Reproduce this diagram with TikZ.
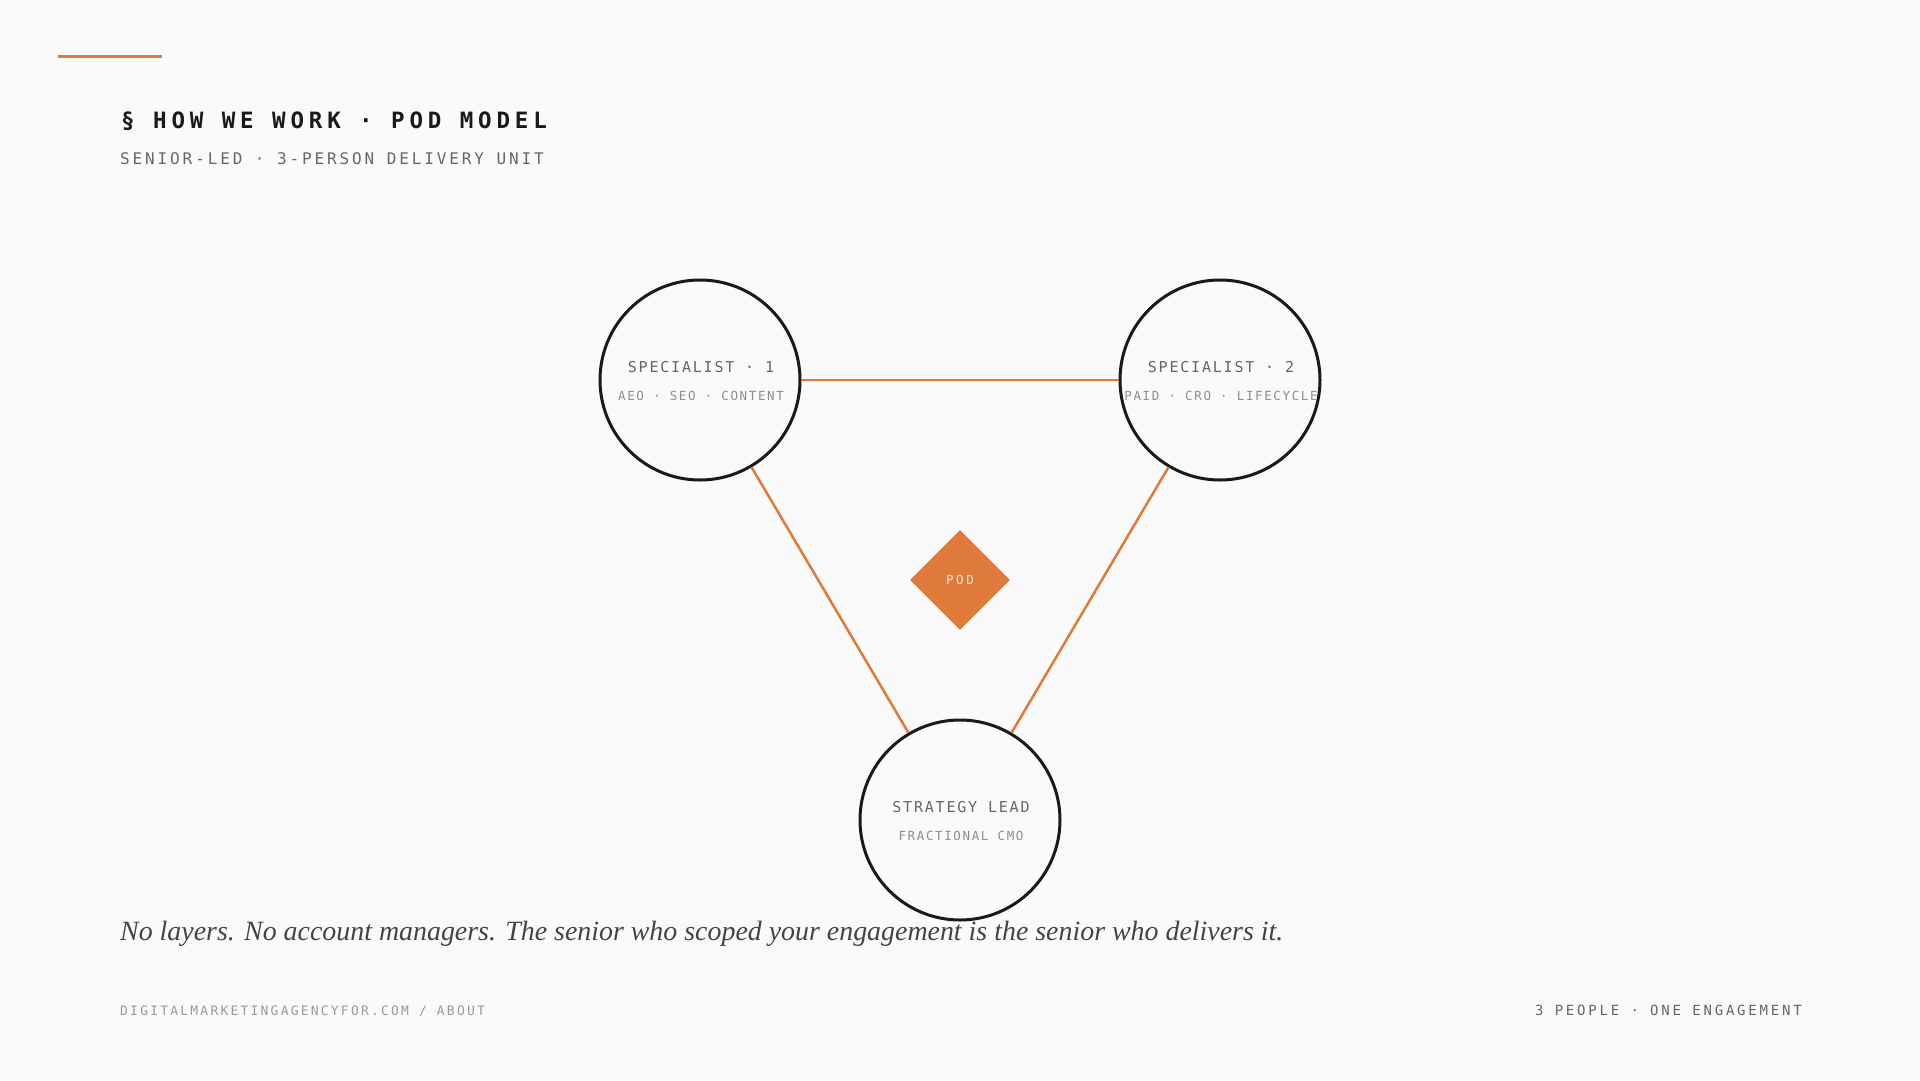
\documentclass[tikz,border=0pt]{standalone}
\usepackage{fontspec}
\usetikzlibrary{shapes.geometric}
\setmainfont{Liberation Serif}
\newfontfamily\monoT[LetterSpace=21.5]{DejaVu Sans Mono}
\newfontfamily\monoS[LetterSpace=18]{DejaVu Sans Mono}
\newfontfamily\monoR[LetterSpace=20]{DejaVu Sans Mono}
\newfontfamily\monoC[LetterSpace=12]{DejaVu Sans Mono}
\newfontfamily\monoD[LetterSpace=13]{DejaVu Sans Mono}
\newfontfamily\monoF[LetterSpace=17]{DejaVu Sans Mono}
\newfontfamily\monoP[LetterSpace=20]{DejaVu Sans Mono}
\definecolor{bg}{HTML}{FAFAFA}
\definecolor{accent}{HTML}{E07A3A}
\definecolor{ink}{HTML}{1A1A1A}
\definecolor{midgray}{HTML}{666666}
\definecolor{lightgray}{HTML}{8E8E8E}
\definecolor{footgray}{HTML}{9A9A9A}
\definecolor{podtext}{HTML}{FCEBDD}
\definecolor{quote}{HTML}{444444}
\tikzset{
  person/.style={circle, draw=ink, line width=3pt, fill=bg, minimum size=200pt, inner sep=0pt},
  conn/.style={draw=accent, line width=2.5pt},
  roletitle/.style={anchor=base, inner sep=0pt, text=midgray, font=\monoC\fontsize{15}{18}\selectfont},
  rolesub/.style={anchor=base, inner sep=0pt, text=lightgray, font=\monoD\fontsize{12.5}{15}\selectfont},
  podbox/.style={diamond, fill=accent, minimum width=100pt, minimum height=100pt, inner sep=0pt, text=podtext, font=\monoP\fontsize{12.5}{15}\selectfont},
}
\begin{document}
\begin{tikzpicture}[x=1pt,y=-1pt]
\fill[bg] (0,0) rectangle (1920,1080);
\useasboundingbox (0,0) rectangle (1920,1080);
% accent rule
\coordinate (ruleA) at (58,56);
\coordinate (ruleB) at (162,56);
\draw[accent, line width=3pt] (ruleA) -- (ruleB);
% header
\node[anchor=base west, inner sep=0pt, text=ink, font=\monoT\bfseries\fontsize{22.5}{26}\selectfont] (title) at (121,128) {§ HOW WE WORK · POD MODEL};
\node[anchor=base west, inner sep=0pt, text=midgray, font=\monoS\fontsize{16}{19}\selectfont] (subtitle) at (120,164) {SENIOR-LED · 3-PERSON DELIVERY UNIT};
% people
\node[person] (s1) at (700,380) {};
\node[person] (s2) at (1220,380) {};
\node[person] (lead) at (960,820) {};
\draw[conn] (s1) -- (s2);
\draw[conn] (s1) -- (lead);
\draw[conn] (s2) -- (lead);
\node[roletitle] (s1t) at (701,372) {SPECIALIST · 1};
\node[rolesub] (s1s) at (701,400) {AEO · SEO · CONTENT};
\node[roletitle] (s2t) at (1221,372) {SPECIALIST · 2};
\node[rolesub] (s2s) at (1221,400) {PAID · CRO · LIFECYCLE};
\node[roletitle] (leadt) at (961,812) {STRATEGY LEAD};
\node[rolesub] (leads) at (961,840) {FRACTIONAL CMO};
% pod
\node[podbox] (pod) at (960,580) {POD};
% quote
\node[anchor=base west, inner sep=0pt, text=quote, font=\itshape\fontsize{27.9}{33}\selectfont] (quote) at (120,940) {No layers. No account managers. The senior who scoped your engagement is the senior who delivers it.};
% footer
\node[anchor=base west, inner sep=0pt, text=footgray, font=\monoF\fontsize{13}{16}\selectfont] (footl) at (120,1015) {DIGITALMARKETINGAGENCYFOR.COM / ABOUT};
\node[anchor=base east, inner sep=0pt, text=midgray, font=\monoR\fontsize{14}{17}\selectfont] (footr) at (1802,1015) {3 PEOPLE · ONE ENGAGEMENT};
\end{tikzpicture}
\end{document}
